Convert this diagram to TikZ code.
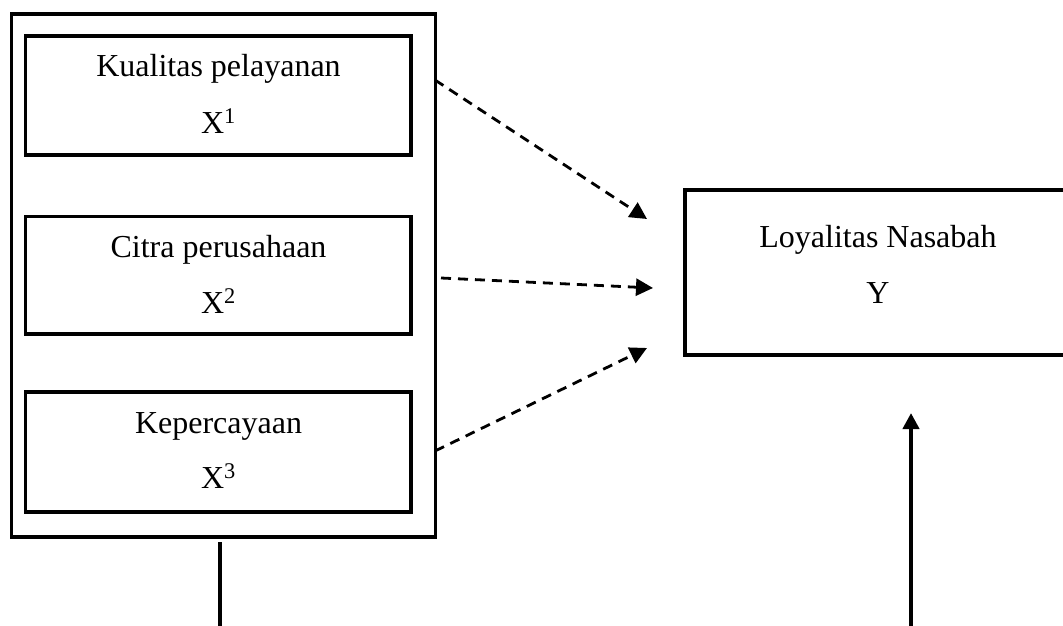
\documentclass[tikz,border=0pt]{standalone}
\usepackage{fontspec}
\setmainfont{Liberation Serif}
\usetikzlibrary{arrows.meta}
\begin{document}
\begin{tikzpicture}[x=1pt,y=-1pt,
  box/.style={draw=black, line width=3.5pt, rectangle, inner sep=0pt},
  lbl/.style={anchor=base, inner sep=0pt, font=\fontsize{32}{38}\selectfont},
  dasharrow/.style={line width=2.8pt, dash pattern=on 10pt off 7pt, -{Triangle[length=17pt,width=17pt]}},
  solidarrow/.style={line width=4pt, -{Triangle[length=16pt,width=16pt]}},
  solidline/.style={line width=4pt}]
\useasboundingbox (0,0) rectangle (1063,626);
\clip (0,0) rectangle (1063,626);
% outer frame
\node[box, minimum width=424pt, minimum height=523pt] (outer) at (223.5,275.5) {};
% inner boxes
\node[box, minimum width=385.5pt, minimum height=119pt] (b1) at (218.25,95.5) {};
\node[box, minimum width=385.5pt, minimum height=117.5pt] (b2) at (218.25,275.25) {};
\node[box, minimum width=385.5pt, minimum height=120pt] (b3) at (218.25,452) {};
% right box
\node[box, minimum width=386pt, minimum height=165pt] (y) at (878,272.5) {};
% texts
\node[lbl] (t1) at (218.5,77) {Kualitas pelayanan};
\node[lbl] (s1) at (218.5,133) {X\textsuperscript{1}};
\node[lbl] (t2) at (218.5,257) {Citra perusahaan};
\node[lbl] (s2) at (218.5,313) {X\textsuperscript{2}};
\node[lbl] (t3) at (218.5,433) {Kepercayaan};
\node[lbl] (s3) at (218.5,488) {X\textsuperscript{3}};
\node[lbl] (ty) at (878,247) {Loyalitas Nasabah};
\node[lbl] (sy) at (878,303) {Y};
% dashed arrows
\coordinate (a1s) at (435,80);
\coordinate (a1e) at (647,219);
\coordinate (a2s) at (441,278);
\coordinate (a2e) at (653,288);
\coordinate (a3s) at (435,451);
\coordinate (a3e) at (647,348);
\draw[dasharrow] (a1s) -- (a1e);
\draw[dasharrow] (a2s) -- (a2e);
\draw[dasharrow] (a3s) -- (a3e);
% vertical lines
\coordinate (vls) at (219.5,542);
\coordinate (vle) at (219.5,640);
\draw[solidline] (vls) -- (vle);
\coordinate (vas) at (911,640);
\coordinate (vae) at (911,413);
\draw[solidarrow] (vas) -- (vae);
\end{tikzpicture}
\end{document}
